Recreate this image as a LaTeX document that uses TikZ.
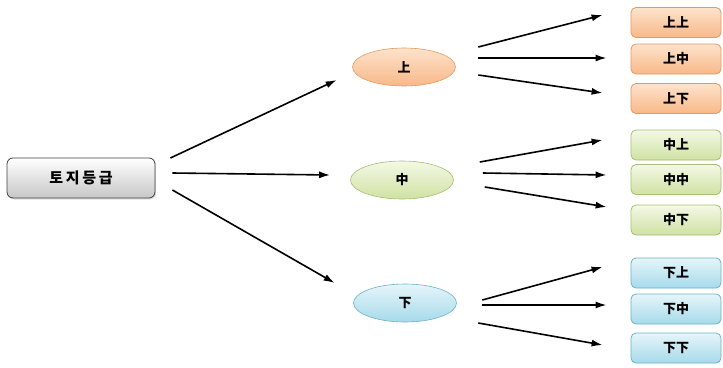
\documentclass[tikz,border=0pt]{standalone}
\usepackage{fontspec}
\newfontfamily\krfont{Noto Sans CJK KR}[LetterSpace=18]
\newfontfamily\hanfont{Noto Sans CJK SC}
\usetikzlibrary{arrows.meta,calc,shadows,shapes.geometric}
\definecolor{otop}{HTML}{FDE3CC}
\definecolor{obot}{HTML}{F8B888}
\definecolor{oline}{HTML}{E39A5E}
\definecolor{gtop}{HTML}{F4F8E6}
\definecolor{gbot}{HTML}{CFE2A2}
\definecolor{gline}{HTML}{A5BE72}
\definecolor{btop}{HTML}{E6F5FA}
\definecolor{bbot}{HTML}{A6DAEA}
\definecolor{bline}{HTML}{6CB3C8}
\tikzset{
  rootbox/.style={draw=black!75, line width=0.8pt, rounded corners=6pt, minimum width=148pt, minimum height=40pt,
    top color=white, bottom color=black!22, drop shadow={opacity=0.25,shadow xshift=1pt,shadow yshift=-1.5pt}, font=\krfont\bfseries\fontsize{15}{17}\selectfont},
  ell/.style={ellipse, minimum width=103pt, minimum height=38pt, inner sep=0pt, line width=0.6pt, font=\hanfont\bfseries\fontsize{13}{15}\selectfont},
  oell/.style={ell, draw=oline, top color=otop, bottom color=obot},
  gell/.style={ell, draw=gline, top color=gtop, bottom color=gbot},
  bell/.style={ell, draw=bline, top color=btop, bottom color=bbot},
  leaf/.style={rounded corners=5pt, minimum width=90pt, minimum height=30pt, inner sep=0pt, line width=0.8pt, font=\hanfont\bfseries\fontsize{13}{15}\selectfont},
  oleaf/.style={leaf, draw=oline, top color=otop, bottom color=obot},
  gleaf/.style={leaf, draw=gline, top color=gtop, bottom color=gbot},
  bleaf/.style={leaf, draw=bline, top color=btop, bottom color=bbot},
  arr/.style={line width=1.6pt, -{Latex[length=11pt,width=7pt]}}
}
\begin{document}
\begin{tikzpicture}[x=1pt,y=-1pt]
\useasboundingbox (0,0) rectangle (723,367);
\node[rootbox] (root) at (81,178) {토지등급};
\node[oell] (up) at (404,67) {上};
\node[gell] (mid) at (402,180) {中};
\node[bell] (dn) at (405,303) {下};
\node[oleaf] (uu) at (676,22.5) {上上};
\node[oleaf] (um) at (676,59) {上中};
\node[oleaf] (ud) at (676,98.5) {上下};
\node[gleaf] (mu) at (676,145) {中上};
\node[gleaf] (mm) at (676,179.5) {中中};
\node[gleaf] (md) at (676,220) {中下};
\node[bleaf] (du) at (676,273) {下上};
\node[bleaf] (dm) at (676,309) {下中};
\node[bleaf] (dd) at (676,348) {下下};
% root arrows
\draw[arr] ($(root.east)+(15,-20)$) -- ($(up.west)+(-15.5,13)$);
\draw[arr] ($(root.east)+(17,-5)$) -- ($(mid.west)+(-20,-5)$);
\draw[arr] ($(root.east)+(17,12)$) -- ($(dn.west)+(-18.5,-20)$);
% up arrows
\draw[arr] ($(up.east)+(22.5,-20)$) -- ($(uu.west)+(-28,-7.5)$);
\draw[arr] ($(up.east)+(22.5,-9)$) -- ($(um.west)+(-24,-1)$);
\draw[arr] ($(up.east)+(22.5,8)$) -- ($(ud.west)+(-28,-5.5)$);
% mid arrows
\draw[arr] ($(mid.east)+(26,-18)$) -- ($(mu.west)+(-28,-5)$);
\draw[arr] ($(mid.east)+(29,-7)$) -- ($(mm.west)+(-24,-4.5)$);
\draw[arr] ($(mid.east)+(31,7)$) -- ($(md.west)+(-24,-13)$);
% down arrows
\draw[arr] ($(dn.east)+(25.5,-3)$) -- ($(du.west)+(-28,-6)$);
\draw[arr] ($(dn.east)+(25.5,2)$) -- ($(dm.west)+(-24,-4)$);
\draw[arr] ($(dn.east)+(21.5,20)$) -- ($(dd.west)+(-28,-3)$);
\end{tikzpicture}
\end{document}
